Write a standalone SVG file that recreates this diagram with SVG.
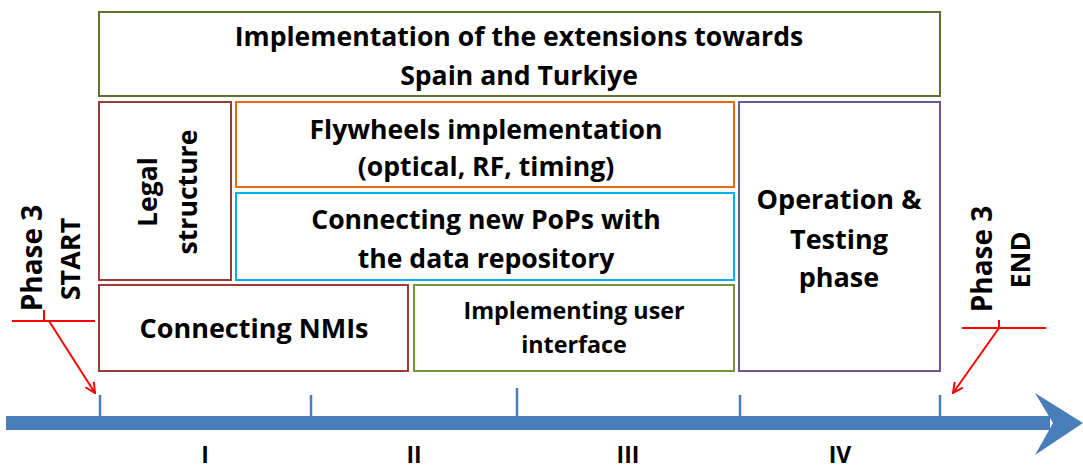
<svg xmlns="http://www.w3.org/2000/svg" width="1083" height="469" viewBox="0 0 1083 469">
<style>
  .box { fill: #ffffff; stroke-width: 2; }
  .t { font-family: "Open Sans", "Liberation Sans", sans-serif; font-weight: 700; fill: #000; text-anchor: middle; }
  .red { stroke: #ff0000; stroke-width: 2; fill: none; }
  .tick { stroke: #4a7ebb; stroke-width: 2.5; }
</style>
<defs>
  <marker id="ah" viewBox="0 0 12 12" refX="11" refY="6" markerWidth="12" markerHeight="12" markerUnits="userSpaceOnUse" orient="auto">
    <path d="M1,1 L11,6 L1,11" fill="none" stroke="#ff0000" stroke-width="2"/>
  </marker>
</defs>
<rect width="1083" height="469" fill="#ffffff"/>

<g id="top">
  <rect class="box" x="99" y="12" width="841" height="84" stroke="#5a7430"/>
  <text class="t" x="519" y="46" font-size="26.6">Implementation of the extensions towards</text>
  <text class="t" x="519" y="85" font-size="26.6">Spain and Turkiye</text>
</g>
<g id="legal">
  <rect class="box" x="99" y="102" width="132" height="178" stroke="#9b3b38"/>
  <text class="t" font-size="26.6" transform="translate(157,192) rotate(-90)">Legal</text>
  <text class="t" font-size="26.6" transform="translate(197,192) rotate(-90)">structure</text>
</g>
<g id="flywheels">
  <rect class="box" x="236" y="102" width="498" height="85" stroke="#e46c0a"/>
  <text class="t" x="486" y="139" font-size="26.6">Flywheels implementation</text>
  <text class="t" x="486" y="176" font-size="26.6">(optical, RF, timing)</text>
</g>
<g id="pops">
  <rect class="box" x="236" y="193" width="498" height="87" stroke="#00b0f0"/>
  <text class="t" x="486" y="229" font-size="26.6">Connecting new PoPs with</text>
  <text class="t" x="486" y="268" font-size="26.6">the data repository</text>
</g>
<g id="operation">
  <rect class="box" x="739" y="102" width="201" height="269" stroke="#6e5594"/>
  <text class="t" x="839" y="209" font-size="27">Operation &amp;</text>
  <text class="t" x="839" y="249" font-size="27">Testing</text>
  <text class="t" x="839" y="287" font-size="27">phase</text>
</g>
<g id="nmis">
  <rect class="box" x="99" y="285" width="309" height="86" stroke="#9b3b38"/>
  <text class="t" x="254" y="338" font-size="27">Connecting NMIs</text>
</g>
<g id="ui">
  <rect class="box" x="414" y="285" width="320" height="86" stroke="#77933c"/>
  <text class="t" x="574" y="319" font-size="23.3">Implementing user</text>
  <text class="t" x="574" y="353" font-size="23.3">interface</text>
</g>
<g id="start">
  <text class="t" font-size="28" transform="translate(42,258) rotate(-90)">Phase 3</text>
  <text class="t" font-size="27" transform="translate(80,259) rotate(-90)">START</text>
</g>
<g id="end">
  <text class="t" font-size="28" transform="translate(992,259) rotate(-90)">Phase 3</text>
  <text class="t" font-size="27" transform="translate(1030,260) rotate(-90)">END</text>
</g>
<g id="axis">
  <path d="M6,416 H1050 V430 H6 Z" fill="#4a7ebb"/>
  <path d="M1035,393 L1083,423 L1035,455 L1053,423 Z" fill="#4a7ebb"/>
  <line class="tick" x1="100" y1="395" x2="100" y2="418"/>
  <line class="tick" x1="311" y1="395" x2="311" y2="418"/>
  <line class="tick" x1="517" y1="388" x2="517" y2="418"/>
  <line class="tick" x1="740" y1="395" x2="740" y2="418"/>
  <line class="tick" x1="940" y1="395" x2="940" y2="418"/>
  <text class="t" x="205" y="463" font-size="23">I</text>
  <text class="t" x="414" y="463" font-size="23">II</text>
  <text class="t" x="628" y="463" font-size="23">III</text>
  <text class="t" x="840" y="463" font-size="23">IV</text>
</g>
<g id="connectors">
  <line class="red" x1="12" y1="321" x2="95" y2="321"/>
  <line class="red" x1="44" y1="310" x2="44" y2="321"/>
  <line class="red" x1="49" y1="321" x2="95" y2="393" marker-end="url(#ah)"/>
  <line class="red" x1="962" y1="328" x2="1046" y2="328"/>
  <line class="red" x1="999" y1="320" x2="999" y2="328"/>
  <line class="red" x1="999" y1="328" x2="953" y2="393" marker-end="url(#ah)"/>
</g>
</svg>
